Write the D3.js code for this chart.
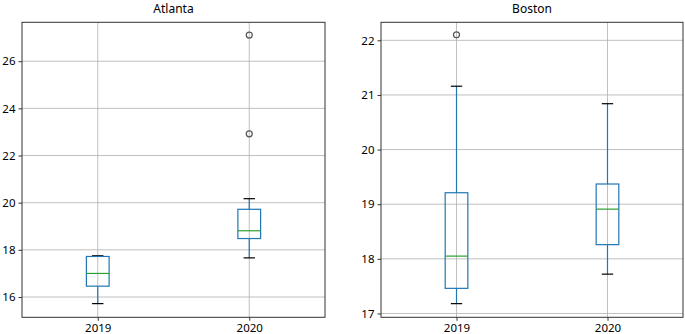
<!DOCTYPE html>
<html>
<head>
<meta charset="utf-8">
<script src="https://cdn.jsdelivr.net/npm/d3@7"></script>
<style>
  body { margin: 0; background: #fff; }
  svg text { font-family: "Noto Sans", "DejaVu Sans", sans-serif; fill: #000; }
</style>
</head>
<body>
<div id="chart"></div>
<script>
// categories on the x axis
const years = ["2019", "2020"];

// box statistics: [whiskerLow, q1, median, q3, whiskerHigh]
const atlantaStats = [
  [15.72, 16.46, 17.0, 17.72, 17.75],
  [17.66, 18.48, 18.81, 19.72, 20.17]
];
const atlantaFliers = [[], [27.11, 22.92]];

const bostonStats = [
  [17.18, 17.46, 18.05, 19.21, 21.16],
  [17.72, 18.26, 18.91, 19.37, 20.84]
];
const bostonFliers = [[22.1], []];

const atlantaTicks = [16, 18, 20, 22, 24, 26];
const bostonTicks = [17, 18, 19, 20, 21, 22];

const width = 685, height = 334;

const svg = d3.select("#chart").append("svg")
  .attr("width", width)
  .attr("height", height);

function drawPanel(opts) {
  let x = d3.scaleLinear().domain([0.5, 2.5]).range([opts.left, opts.right]);
  let y = d3.scaleLinear().domain(opts.domain).range([opts.bottom, opts.top]);

  let g = svg.append("g");

  // gridlines
  g.selectAll("line.hgrid")
    .data(opts.ticks)
    .enter().append("line")
    .attr("x1", opts.left).attr("x2", opts.right)
    .attr("y1", d => y(d)).attr("y2", d => y(d))
    .attr("stroke", "#b0b0b0").attr("stroke-width", 0.8);

  g.selectAll("line.vgrid")
    .data(years)
    .enter().append("line")
    .attr("x1", (d, i) => x(i + 1)).attr("x2", (d, i) => x(i + 1))
    .attr("y1", opts.top).attr("y2", opts.bottom)
    .attr("stroke", "#b0b0b0").attr("stroke-width", 0.8);

  // axes
  let yAxis = d3.axisLeft(y).tickValues(opts.ticks).tickSize(3.5).tickPadding(3).tickFormat(d3.format("d"));
  let xAxis = d3.axisBottom(x).tickValues([1, 2]).tickSize(3.5).tickPadding(3.5).tickFormat(d => years[d - 1]);

  let yG = g.append("g").attr("transform", `translate(${opts.left},0)`).call(yAxis);
  let xG = g.append("g").attr("transform", `translate(0,${opts.bottom})`).call(xAxis);
  [yG, xG].forEach(a => {
    a.select(".domain").remove();
    a.selectAll("text").style("font-size", "11.5px").style("fill", "#000");
    a.selectAll(".tick line").attr("stroke", "#000").attr("stroke-width", 0.8);
  });

  let half = 0.075, capHalf = 0.0375;

  opts.stats.forEach((s, i) => {
    let cx = i + 1;
    // whiskers
    g.append("line")
      .attr("x1", x(cx)).attr("x2", x(cx))
      .attr("y1", y(s[0])).attr("y2", y(s[1]))
      .attr("stroke", "#1f77b4").attr("stroke-width", 1.2);
    g.append("line")
      .attr("x1", x(cx)).attr("x2", x(cx))
      .attr("y1", y(s[3])).attr("y2", y(s[4]))
      .attr("stroke", "#1f77b4").attr("stroke-width", 1.2);
    // caps
    [s[0], s[4]].forEach(v => {
      g.append("line")
        .attr("x1", x(cx - capHalf)).attr("x2", x(cx + capHalf))
        .attr("y1", y(v)).attr("y2", y(v))
        .attr("stroke", "#000").attr("stroke-width", 1.2);
    });
    // box
    g.append("rect")
      .attr("x", x(cx - half)).attr("width", x(cx + half) - x(cx - half))
      .attr("y", y(s[3])).attr("height", y(s[1]) - y(s[3]))
      .attr("fill", "none").attr("stroke", "#1f77b4").attr("stroke-width", 1.2);
    // median
    g.append("line")
      .attr("x1", x(cx - half)).attr("x2", x(cx + half))
      .attr("y1", y(s[2])).attr("y2", y(s[2]))
      .attr("stroke", "#2ca02c").attr("stroke-width", 1.2);
    // fliers
    g.selectAll(null)
      .data(opts.fliers[i])
      .enter().append("circle")
      .attr("cx", x(cx)).attr("cy", d => y(d))
      .attr("r", 3)
      .attr("fill", "none").attr("stroke", "#555").attr("stroke-width", 1.2);
  });

  // frame
  g.append("rect")
    .attr("x", opts.left).attr("y", opts.top)
    .attr("width", opts.right - opts.left).attr("height", opts.bottom - opts.top)
    .attr("fill", "none").attr("stroke", "#333").attr("stroke-width", 1);

  // title
  g.append("text")
    .attr("x", (opts.left + opts.right) / 2)
    .attr("y", 13)
    .attr("text-anchor", "middle")
    .style("font-size", "12px")
    .text(opts.title);
}

drawPanel({
  title: "Atlanta", left: 22, right: 325, top: 22.3, bottom: 317.3,
  domain: [15.14, 27.65], ticks: atlantaTicks, stats: atlantaStats, fliers: atlantaFliers
});
drawPanel({
  title: "Boston", left: 381, right: 683, top: 22.3, bottom: 317.3,
  domain: [16.93, 22.33], ticks: bostonTicks, stats: bostonStats, fliers: bostonFliers
});
</script>
</body>
</html>
